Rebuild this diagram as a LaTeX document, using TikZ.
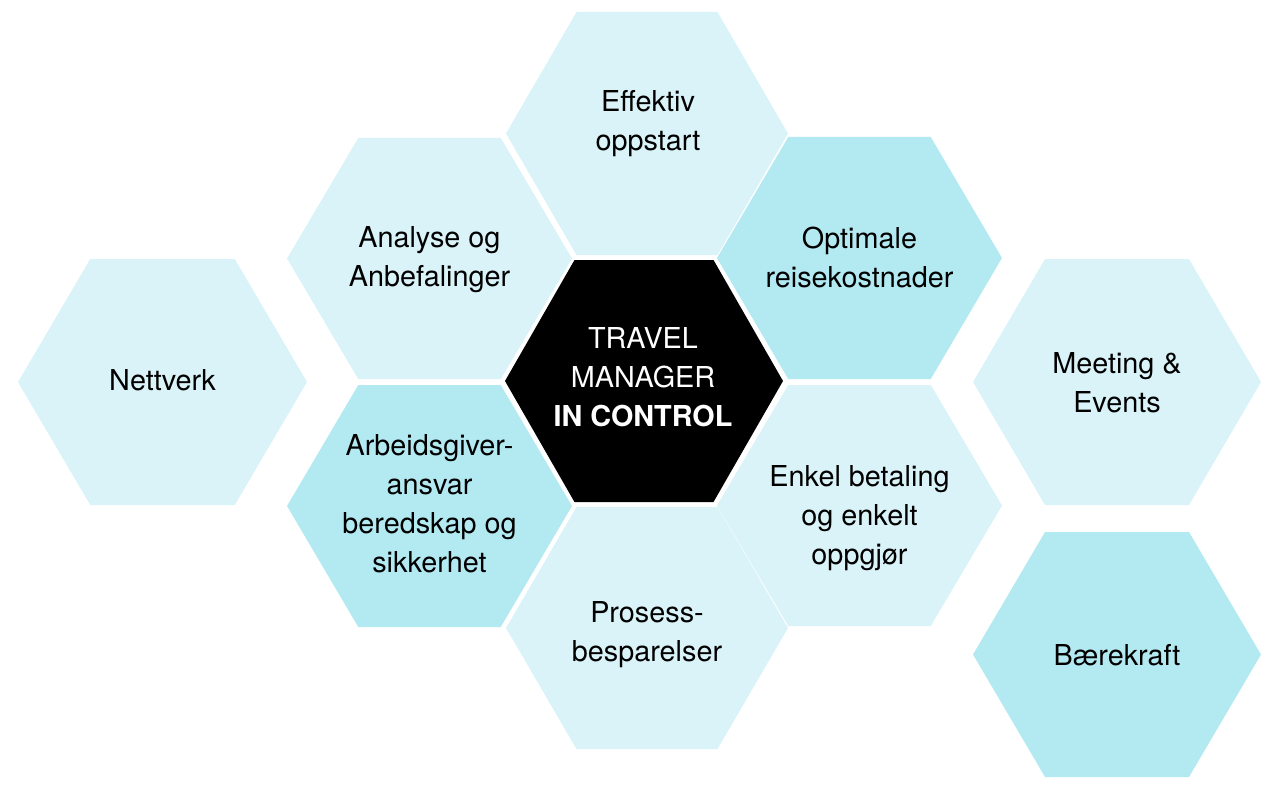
\documentclass[tikz,border=0pt]{standalone}
\usepackage{fontspec}
\setmainfont{TeX Gyre Heros}
\definecolor{hexlight}{RGB}{217,243,248}
\definecolor{hexmid}{RGB}{179,234,242}
\newcommand\hexat[5]{%
  \fill[#5] ({#1-#3},{#2}) -- ({#1-#3/2},{#2-#4}) -- ({#1+#3/2},{#2-#4})
    -- ({#1+#3},{#2}) -- ({#1+#3/2},{#2+#4}) -- ({#1-#3/2},{#2+#4}) -- cycle;}
\begin{document}
\begin{tikzpicture}[x=1pt,y=-1pt,
  lbl/.style={align=center,inner sep=0pt,text=black,
    font=\fontsize{28.8}{39}\selectfont},
  ctrlbl/.style={lbl,text=white}]
\useasboundingbox (0,0) rectangle (1280,789);
% hexagons
\hexat{647}{133.5}{141}{121.5}{hexlight}
\hexat{429.5}{258.5}{142.5}{120.5}{hexlight}
\hexat{859.5}{258}{142.5}{121}{hexmid}
\hexat{162.5}{382}{144.5}{123}{hexlight}
\hexat{644}{381}{139}{121}{black}
\hexat{1117}{382}{144}{123}{hexlight}
\hexat{429.5}{506}{142.5}{121}{hexmid}
\hexat{859.5}{505.5}{142.5}{120.5}{hexlight}
\hexat{647}{628}{141}{121}{hexlight}
\hexat{1117}{654.5}{144}{122.5}{hexmid}
% labels
\node[lbl] (eff) at (648,124) {Effektiv\\oppstart};
\node[lbl] (ana) at (429.5,259.5) {Analyse og\\Anbefalinger};
\node[lbl] (opt) at (859.5,257) {Optimale\\reisekostnader};
\node[lbl] (net) at (162.5,380.5) {Nettverk};
\node[ctrlbl] (ctr) at (643,377.5) {TRAVEL\\MANAGER\\\textbf{IN CONTROL}};
\node[lbl] (meet) at (1117,383) {Meeting \&\\Events};
\node[lbl] (arb) at (429.5,504) {Arbeidsgiver-\\ansvar\\beredskap og\\sikkerhet};
\node[lbl] (enk) at (859.5,518.5) {Enkel betaling\\og enkelt\\oppgjør};
\node[lbl] (pro) at (647,635) {Prosess-\\besparelser};
\node[lbl] (bae) at (1117,655.5) {Bærekraft};
\end{tikzpicture}
\end{document}
